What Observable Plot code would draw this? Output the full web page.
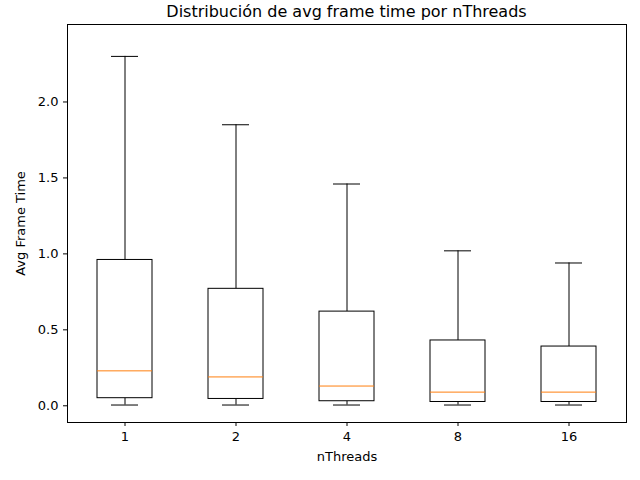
<!DOCTYPE html>
<html>
<head>
<meta charset="utf-8">
<script src="https://cdn.jsdelivr.net/npm/d3@7"></script>
<script src="https://cdn.jsdelivr.net/npm/@observablehq/plot@0.6"></script>
<style>
  body { margin: 0; background: white; font-family: "DejaVu Sans", sans-serif; }
  #wrap { position: relative; width: 640px; height: 480px; }
  #title { position: absolute; top: 2px; left: 67px; width: 559px; text-align: center; font-size: 16px; }
</style>
</head>
<body>
<div id="wrap">
  <div id="title">Distribución de avg frame time por nThreads</div>
  <div id="chart"></div>
</div>
<script>
// Box statistics per thread count
const threads = ["1", "2", "4", "8", "16"];
const whiskerLow = [0.005, 0.005, 0.005, 0.005, 0.005];
const q1 = [0.05, 0.045, 0.03, 0.025, 0.025];
const median = [0.23, 0.19, 0.13, 0.09, 0.09];
const q3 = [0.96, 0.77, 0.62, 0.43, 0.39];
const whiskerHigh = [2.30, 1.85, 1.46, 1.02, 0.94];

const boxes = threads.map((t, i) => ({
    t, lo: whiskerLow[i], q1: q1[i], med: median[i], q3: q3[i], hi: whiskerHigh[i]
}));

const plot = Plot.plot({
    width: 640,
    height: 480,
    marginLeft: 67,
    marginRight: 14,
    marginTop: 24,
    marginBottom: 58,
    style: { fontFamily: "DejaVu Sans", fontSize: "13px", color: "black" },
    x: { type: "band", domain: threads, padding: 0, label: null, tickSize: 4 },
    y: { domain: [-0.11, 2.51], ticks: [0, 0.5, 1, 1.5, 2], tickFormat: d3.format(".1f"), label: null, tickSize: 4 },
    marks: [
        Plot.frame({ stroke: "black" }),
        // whiskers
        Plot.ruleX(boxes, { x: "t", y1: "lo", y2: "q1", stroke: "black" }),
        Plot.ruleX(boxes, { x: "t", y1: "q3", y2: "hi", stroke: "black" }),
        Plot.tickY(boxes, { x: "t", y: "lo", stroke: "black", insetLeft: 42, insetRight: 42 }),
        Plot.tickY(boxes, { x: "t", y: "hi", stroke: "black", insetLeft: 42, insetRight: 42 }),
        // boxes
        Plot.rectY(boxes, { x: "t", y1: "q1", y2: "q3", fill: "white", stroke: "black", insetLeft: 28, insetRight: 28 }),
        Plot.tickY(boxes, { x: "t", y: "med", stroke: "#ff7f0e", insetLeft: 28, insetRight: 28 }),
        Plot.text(["nThreads"], { frameAnchor: "bottom", dy: 38, fontSize: 13 }),
        Plot.text(["Avg Frame Time"], { frameAnchor: "left", textAnchor: "middle", dx: -47, rotate: -90, fontSize: 13 })
    ]
});

document.getElementById("chart").appendChild(plot);
</script>
</body>
</html>
